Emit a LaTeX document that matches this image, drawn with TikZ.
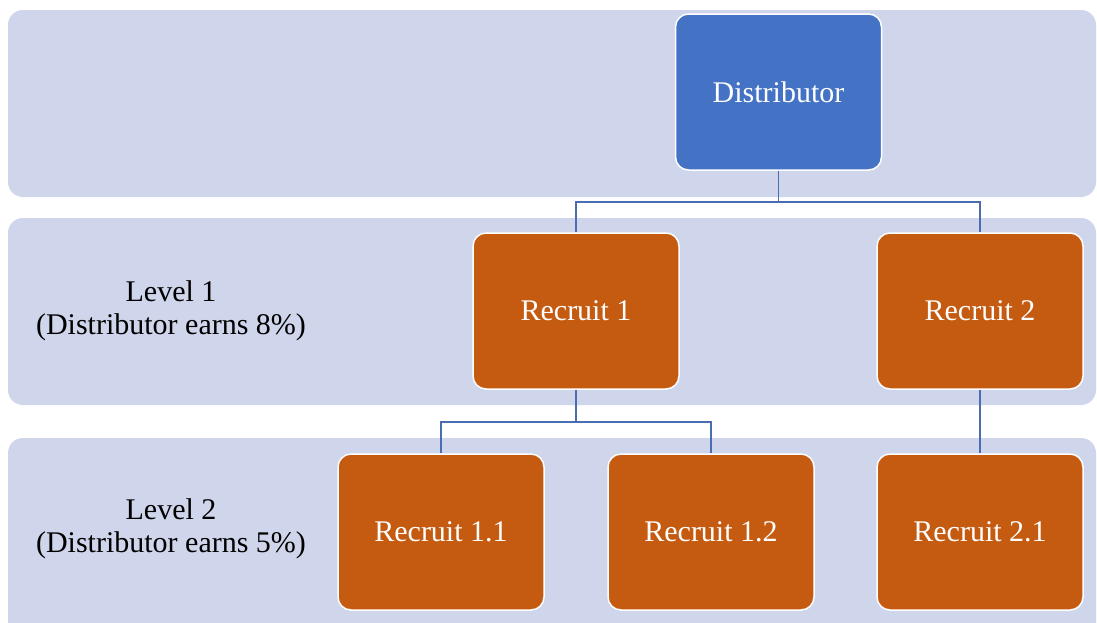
\documentclass[tikz,border=0pt]{standalone}
\usepackage{fontspec}
\setmainfont{Liberation Serif}
\definecolor{band}{HTML}{CFD5EA}
\definecolor{blueBox}{HTML}{4472C4}
\definecolor{orangeBox}{HTML}{C55A11}
\definecolor{conn}{HTML}{4A6DB0}
\tikzset{
  bandbox/.style={fill=band, draw=none, rounded corners=15pt},
  orgbox/.style={draw=white, line width=1.5pt, rounded corners=13pt, minimum width=206pt, minimum height=156pt, inner sep=0pt, text=white, font=\fontsize{30}{34}\selectfont, align=center},
  dbox/.style={orgbox, fill=blueBox},
  rbox/.style={orgbox, fill=orangeBox},
  lvl/.style={align=center, font=\fontsize{30}{33}\selectfont, text=black},
  link/.style={draw=conn, line width=1.5pt}
}
\begin{document}
\begin{tikzpicture}[x=1pt,y=-1pt]
\useasboundingbox (0,0) rectangle (1097,622);
\fill[white] (0,0) rectangle (1097,622);
\path[bandbox] (8,10) rectangle (1096,197);
\path[bandbox] (8,218) rectangle (1096,405);
\path[bandbox] (8,438) rectangle (1096,640);

\node[dbox] (dist) at (778.5,92) {Distributor};
\node[rbox] (r1) at (576,311) {Recruit 1};
\node[rbox] (r2) at (980,311) {Recruit 2};
\node[rbox] (r11) at (441,532) {Recruit 1.1};
\node[rbox] (r12) at (711,532) {Recruit 1.2};
\node[rbox] (r21) at (980,532) {Recruit 2.1};

\node[lvl] (l1) at (171,311) {Level 1\\(Distributor earns 8\%)};
\node[lvl] (l2) at (171,529) {Level 2\\(Distributor earns 5\%)};

\coordinate (j1) at (dist.south |- 0,202);
\coordinate (j2) at (r1.south |- 0,422);
\draw[link] (dist.south) -- (j1) -| (r1.north);
\draw[link] (j1) -| (r2.north);
\draw[link] (r1.south) -- (j2) -| (r11.north);
\draw[link] (j2) -| (r12.north);
\draw[link] (r2.south) -- (r21.north);
\end{tikzpicture}
\end{document}
